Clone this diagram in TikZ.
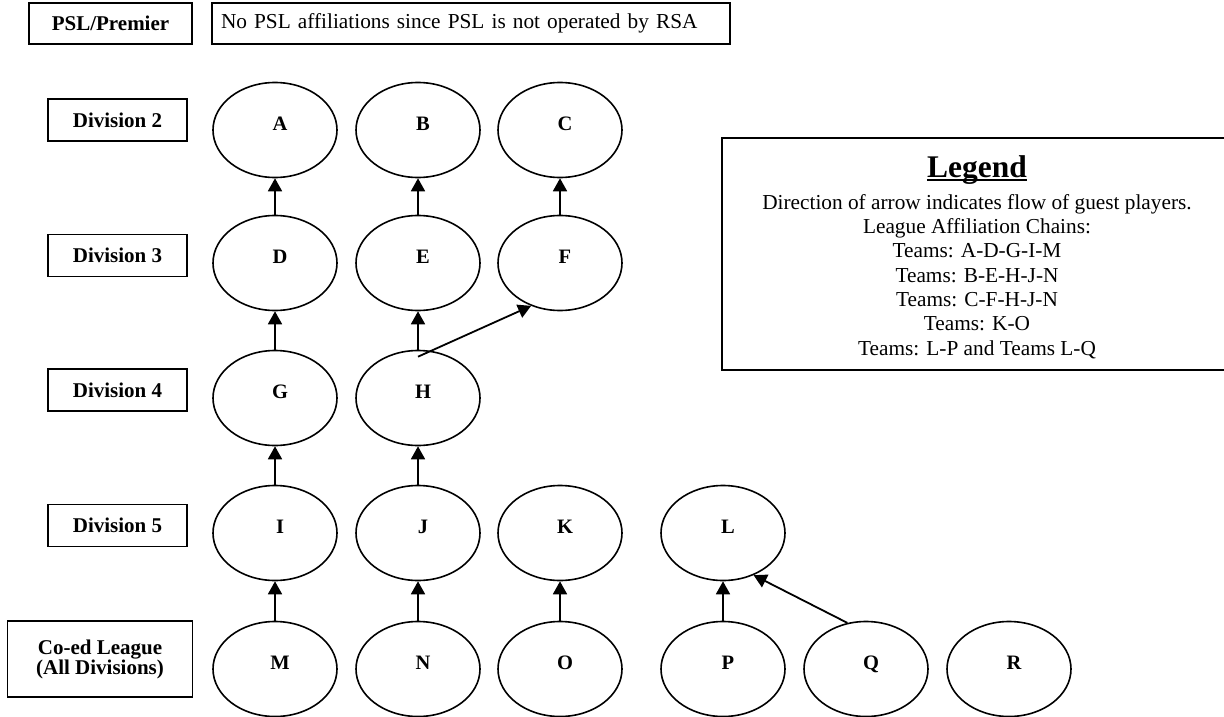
\documentclass[tikz,border=0pt]{standalone}
\usepackage{fontspec}
\setmainfont{Liberation Serif}
\usepackage{tikz}
\usetikzlibrary{positioning, arrows.meta, shapes.geometric}

\begin{document}
\begin{tikzpicture}[x=1pt, y=-1pt,
      every node/.style={font=\fontsize{21}{20}\selectfont},
      team/.style={draw, ellipse, line width=1.6pt, minimum width=124pt,
        minimum height=95pt, inner sep=0pt, text depth=12pt,
        font=\fontsize{20.5}{20}\selectfont\bfseries,
        execute at begin node={\hspace*{10pt}}},
      tier/.style={draw, line width=1.6pt, minimum width=139pt,
        minimum height=42pt, inner sep=0pt, align=center,
        font=\fontsize{21}{20}\selectfont\bfseries},
      flow/.style={-{Triangle[length=13pt, width=14pt]}, line width=1.8pt}]

    \clip (0, 0) rectangle (1224, 717);
    \fill[white] (0, 0) rectangle (1224, 717);

    % Top row
    \node[tier, minimum width=163pt, minimum height=41pt] at (110.5, 23.5) (psl) {PSL/Premier};
    \node[draw, line width=1.6pt, text width=500pt, inner xsep=9pt,
      minimum height=41pt, align=left, font=\fontsize{21.3}{24}\selectfont]
      at (471, 23.5) (pslnote) {No PSL affiliations since PSL is not operated by RSA};

    % Division labels
    \node[tier] at (117.5, 120) (div2) {Division 2};
    \node[tier] at (117.5, 255.5) (div3) {Division 3};
    \node[tier] at (117.5, 390) (div4) {Division 4};
    \node[tier] at (117.5, 525.5) (div5) {Division 5};
    \node[tier, minimum width=185pt, minimum height=76pt] at (100, 659) (coed)
      {Co-ed League\\(All Divisions)};

    % Teams
    \node[team] at (275, 130) (A) {A};
    \node[team] at (418, 130) (B) {B};
    \node[team] at (560, 130) (C) {C};
    \node[team] at (275, 263) (D) {D};
    \node[team] at (418, 263) (E) {E};
    \node[team] at (560, 263) (F) {F};
    \node[team] at (275, 398) (G) {G};
    \node[team] at (418, 398) (H) {H};
    \node[team] at (275, 533) (I) {I};
    \node[team] at (418, 533) (J) {J};
    \node[team] at (560, 533) (K) {K};
    \node[team] at (723, 533) (L) {L};
    \node[team] at (275, 669) (M) {M};
    \node[team] at (418, 669) (N) {N};
    \node[team] at (560, 669) (O) {O};
    \node[team] at (723, 669) (P) {P};
    \node[team] at (866, 669) (Q) {Q};
    \node[team] at (1009, 669) (R) {R};

    % Guest player flow
    \draw[flow] (D) -- (A);
    \draw[flow] (E) -- (B);
    \draw[flow] (F) -- (C);
    \draw[flow] (G) -- (D);
    \draw[flow] (H) -- (E);
    \draw[flow] ([yshift=-7pt]H.north) -- (F.236);
    \draw[flow] (I) -- (G);
    \draw[flow] (J) -- (H);
    \draw[flow] (M) -- (I);
    \draw[flow] (N) -- (J);
    \draw[flow] (O) -- (K);
    \draw[flow] (P) -- (L);
    \draw[flow] (Q.112) -- (L.-54);

    % Legend
    \node[draw, line width=1.6pt, minimum width=508pt, minimum height=232pt,
      inner sep=0pt] at (976, 254) (legend) {};
    \node[font=\fontsize{31.5}{32}\selectfont\bfseries, anchor=base, inner sep=0pt]
      at (977, 177) (legtitle) {Legend};
    \draw[line width=2pt] ([yshift=-3pt]legtitle.base west) -- ([yshift=-3pt]legtitle.base east);
    \node[anchor=north, align=center, inner sep=0pt,
      font=\fontsize{21.3}{24.3}\selectfont] at (977, 194) (legtext)
      {Direction of arrow indicates flow of guest players.\\
       League Affiliation Chains:\\
       Teams: A-D-G-I-M\\
       Teams: B-E-H-J-N\\
       Teams: C-F-H-J-N\\
       Teams: K-O\\
       Teams: L-P and Teams L-Q};
  \end{tikzpicture}
\end{document}
